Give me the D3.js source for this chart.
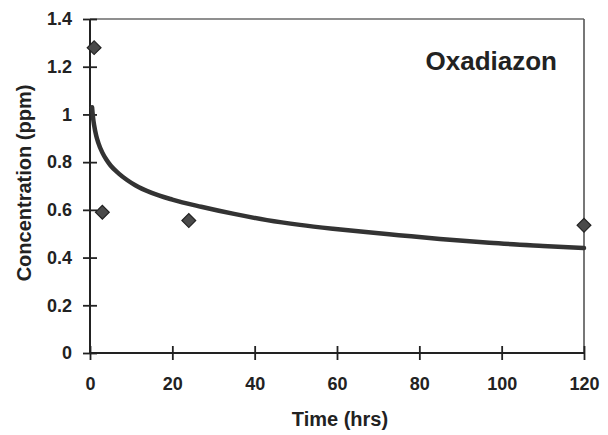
<!DOCTYPE html>
<html>
<head>
<meta charset="utf-8">
<script src="https://cdn.jsdelivr.net/npm/d3@7"></script>
<style>
  html, body { margin: 0; padding: 0; background: #fff; }
  svg { display: block; }
  text { font-family: "Liberation Sans", Arial, Helvetica, sans-serif; font-weight: bold; fill: #222; }
</style>
</head>
<body>
<svg id="chart" width="608" height="435"></svg>
<script>
// Measured concentrations of oxadiazon over time
const sampleTimes = [1, 3, 24, 120];
const sampleConc = [1.28, 0.59, 0.555, 0.535];

// Fitted decline curve
const fitTimes = [0.5, 0.75, 1, 1.5, 2, 3, 4, 5, 7, 9, 11, 15, 20, 27, 35, 43, 51, 59, 67, 75, 85, 97, 110, 120];
const fitConc = [1.03, 0.985, 0.955, 0.912, 0.882, 0.84, 0.81, 0.786, 0.752, 0.725, 0.703, 0.671, 0.643, 0.613, 0.583, 0.557, 0.537, 0.521, 0.507, 0.494, 0.478, 0.462, 0.449, 0.44];

const xTicks = [0, 20, 40, 60, 80, 100, 120];
const yTicks = [0, 0.2, 0.4, 0.6, 0.8, 1, 1.2, 1.4];

const chartTitle = "Oxadiazon";
const xTitle = "Time (hrs)";
const yTitle = "Concentration (ppm)";

const svg = d3.select("#chart");
const plotLeft = 90, plotRight = 584, plotTop = 19, plotBottom = 353;

const x = d3.scaleLinear().domain([0, 120]).range([plotLeft, plotRight]);
const y = d3.scaleLinear().domain([0, 1.4]).range([plotBottom, plotTop]);

// Frame: lighter top and right edges
svg.append("line").attr("x1", plotLeft).attr("x2", plotRight).attr("y1", plotTop).attr("y2", plotTop)
  .attr("stroke", "#6a6a6a").attr("stroke-width", 1.6);
svg.append("line").attr("x1", plotRight).attr("x2", plotRight).attr("y1", plotTop).attr("y2", plotBottom)
  .attr("stroke", "#555").attr("stroke-width", 1.6);

// Axes with ticks crossing the axis line
const xAxis = svg.append("g").attr("transform", `translate(0,${plotBottom})`)
  .call(d3.axisBottom(x).tickValues(xTicks).tickSize(7).tickFormat(d3.format("d")));
xAxis.selectAll(".tick line").attr("y1", -7).attr("stroke", "#222").attr("stroke-width", 1.8);
xAxis.select(".domain").attr("stroke", "#222").attr("stroke-width", 2)
  .attr("d", `M${plotLeft},0H${plotRight}`);
xAxis.selectAll(".tick text").attr("font-size", 18).attr("y", 24).attr("dy", "0.71em")
  .style("font-family", "'Liberation Sans', Arial, sans-serif").style("font-weight", "bold").attr("fill", "#222");

const yAxis = svg.append("g").attr("transform", `translate(${plotLeft},0)`)
  .call(d3.axisLeft(y).tickValues(yTicks).tickSize(7).tickPadding(11).tickFormat(d3.format("~g")));
yAxis.selectAll(".tick line").attr("x1", 7).attr("stroke", "#222").attr("stroke-width", 1.8);
yAxis.select(".domain").attr("stroke", "#222").attr("stroke-width", 2)
  .attr("d", `M0,${plotTop}V${plotBottom}`);
yAxis.selectAll(".tick text").attr("font-size", 18)
  .style("font-family", "'Liberation Sans', Arial, sans-serif").style("font-weight", "bold").attr("fill", "#222");

// Fitted curve
const fitData = fitTimes.map((t, i) => ({ t, c: fitConc[i] }));
svg.append("path").datum(fitData)
  .attr("fill", "none").attr("stroke", "#333").attr("stroke-width", 4.5)
  .attr("stroke-linecap", "round").attr("stroke-linejoin", "round")
  .attr("d", d3.line().x(d => x(d.t)).y(d => y(d.c)).curve(d3.curveMonotoneX));

// Sample markers (diamonds)
const sampleData = sampleTimes.map((t, i) => ({ t, c: sampleConc[i] }));
const diamond = d3.symbol().type(d3.symbolSquare).size(95);
svg.append("g").selectAll("path").data(sampleData).join("path")
  .attr("transform", d => `translate(${x(d.t)},${y(d.c)}) rotate(45)`)
  .attr("d", diamond)
  .attr("fill", "#4a4a4a").attr("stroke", "#222").attr("stroke-width", 1.2);

// Titles
svg.append("text").attr("x", 557).attr("y", 70).attr("text-anchor", "end")
  .attr("font-size", 26).text(chartTitle);
svg.append("text").attr("x", 340).attr("y", 426).attr("text-anchor", "middle")
  .attr("font-size", 20).text(xTitle);
svg.append("text").attr("transform", "translate(31,183) rotate(-90)").attr("text-anchor", "middle")
  .attr("font-size", 20).text(yTitle);
</script>
</body>
</html>
